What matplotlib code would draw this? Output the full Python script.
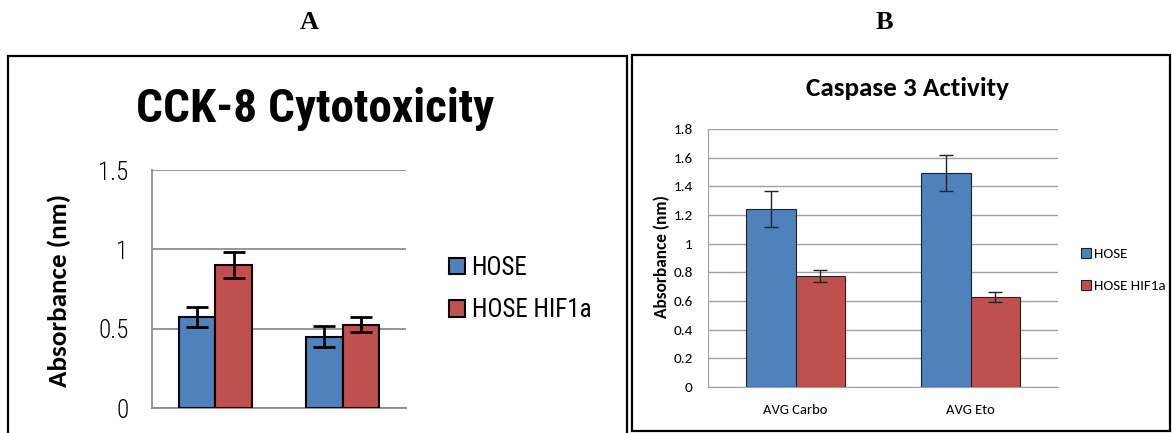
import matplotlib
matplotlib.use("Agg")
import matplotlib.pyplot as plt
from matplotlib import font_manager
from matplotlib.patches import Rectangle
import numpy as np

# data
series = ["HOSE", "HOSE HIF1a"]
colors = ["#4F81BD", "#C0504D"]

cck_vals = [[0.575, 0.45], [0.90, 0.525]]
cck_err = [[0.064, 0.066], [0.082, 0.048]]
cck_ticks = [0, 0.5, 1, 1.5]
cck_ticklabels = ["0", "0.5", "1", "1.5"]

casp_cats = ["AVG Carbo", "AVG Eto"]
casp_vals = [[1.24, 1.49], [0.775, 0.626]]
casp_err = [[0.124, 0.126], [0.039, 0.036]]
casp_ticks = [0, 0.2, 0.4, 0.6, 0.8, 1.0, 1.2, 1.4, 1.6, 1.8]
casp_ticklabels = ["0", "0.2", "0.4", "0.6", "0.8", "1", "1.2", "1.4", "1.6", "1.8"]

W, H = 1172, 433
names = {f.name for f in font_manager.fontManager.ttflist}


def pick(cands, default="DejaVu Sans"):
    for c in cands:
        if c in names:
            return c
    return default


narrow = pick(["Roboto Condensed", "Liberation Sans Narrow", "Archivo Narrow", "PT Sans Narrow",
               "Fira Sans Condensed", "Encode Sans Condensed", "Asap Condensed"])
calib = pick(["Carlito", "Lato"])
k = 1.0 if calib == "Carlito" else 0.9
serif = pick(["Liberation Serif", "Tinos"], "DejaVu Serif")


def px_rect(x0, y0, x1, y1):
    return [x0 / W, 1 - y1 / H, (x1 - x0) / W, (y1 - y0) / H]


fig = plt.figure(figsize=(W / 100, H / 100), dpi=100)

# panel frames
fig.add_artist(Rectangle((8 / W, 1 - 440 / H), (627 - 8) / W, (440 - 56) / H,
                         transform=fig.transFigure, fill=False, ec="black", lw=1.6))
fig.add_artist(Rectangle((632 / W, 1 - 431 / H), (1170 - 632) / W, (431 - 55) / H,
                         transform=fig.transFigure, fill=False, ec="black", lw=1.6))

fig.text(309 / W, 1 - 29 / H, "A", family=serif, weight="bold", fontsize=19, ha="center", va="baseline")
fig.text(884 / W, 1 - 29 / H, "B", family=serif, weight="bold", fontsize=19, ha="center", va="baseline")

bw = 0.285
x = np.arange(2)

# ---- A: CCK-8
ax1 = fig.add_axes(px_rect(152, 170, 406, 408))
bars1 = []
for i in range(2):
    pos = x + (i - 0.5) * bw
    b = ax1.bar(pos, cck_vals[i], bw, color=colors[i], edgecolor="black", lw=1.5,
                label=series[i], zorder=3)
    bars1.append(b)
    ax1.errorbar(pos, cck_vals[i], yerr=cck_err[i], fmt="none", ecolor="black",
                 elinewidth=2, capsize=8, capthick=2, zorder=4)
ax1.set_xlim(-0.5, 1.5)
ax1.set_ylim(0, 1.5)
ax1.set_yticks(cck_ticks)
ax1.set_yticklabels(cck_ticklabels, family=narrow, weight=300, fontsize=18)
ax1.set_xticks([])
ax1.tick_params(axis="y", length=0, pad=17)
ax1.grid(axis="y", color="#8c8c8c", lw=1.3, zorder=0)
for s in ["top", "right"]:
    ax1.spines[s].set_visible(False)
for s in ["left", "bottom"]:
    ax1.spines[s].set_color("#8c8c8c")
    ax1.spines[s].set_linewidth(1.3)
ax1.legend(handles=bars1, loc="center left", bbox_to_anchor=(449 / W, 1 - 289 / H),
           bbox_transform=fig.transFigure, frameon=False, borderpad=0, borderaxespad=0,
           handlelength=0.65, handleheight=0.65, handletextpad=0.25, labelspacing=0.75,
           prop={"family": narrow, "size": 18})
fig.text(315 / W, 1 - 122 / H, "CCK-8 Cytotoxicity", family=narrow, weight="bold",
         fontsize=34, ha="center", va="baseline")
fig.text(59 / W, 1 - 290 / H, "Absorbance (nm)", family=calib, weight="bold",
         fontsize=19.5 * k, rotation=90, ha="center", va="center")

# ---- B: Caspase 3
ax2 = fig.add_axes(px_rect(708, 129, 1058, 387))
bars2 = []
for i in range(2):
    pos = x + (i - 0.5) * bw
    b = ax2.bar(pos, casp_vals[i], bw, color=colors[i], edgecolor="#222222", lw=0.8,
                label=series[i], zorder=3)
    bars2.append(b)
    ax2.errorbar(pos, casp_vals[i], yerr=casp_err[i], fmt="none", ecolor="#222222",
                 elinewidth=1, capsize=5, capthick=1, zorder=4)
ax2.set_xlim(-0.5, 1.5)
ax2.set_ylim(0, 1.8)
ax2.set_yticks(casp_ticks)
ax2.set_yticklabels(casp_ticklabels, family=calib, fontsize=11 * k)
ax2.set_xticks(x)
ax2.set_xticklabels(casp_cats, family=calib, fontsize=10.5 * k)
ax2.tick_params(axis="y", length=0, pad=11)
ax2.tick_params(axis="x", length=0, pad=12)
ax2.grid(axis="y", color="#a0a0a0", lw=1, zorder=0)
for s in ["top", "right"]:
    ax2.spines[s].set_visible(False)
for s in ["left", "bottom"]:
    ax2.spines[s].set_color("#a0a0a0")
ax2.legend(handles=bars2, loc="center left", bbox_to_anchor=(1081 / W, 1 - 270 / H),
           bbox_transform=fig.transFigure, frameon=False, borderpad=0, borderaxespad=0,
           handlelength=0.65, handleheight=0.65, handletextpad=0.23, labelspacing=1.35,
           prop={"family": calib, "size": 10.8 * k})
fig.text(907 / W, 1 - 89 / H, "Caspase 3 Activity", family=calib, weight="bold",
         fontsize=19.5 * k, ha="center", va="center")
fig.text(662 / W, 1 - 257 / H, "Absorbance (nm)", family=calib, weight="bold",
         fontsize=12.4 * k, rotation=90, ha="center", va="center")

fig.savefig("out.png", dpi=100)
